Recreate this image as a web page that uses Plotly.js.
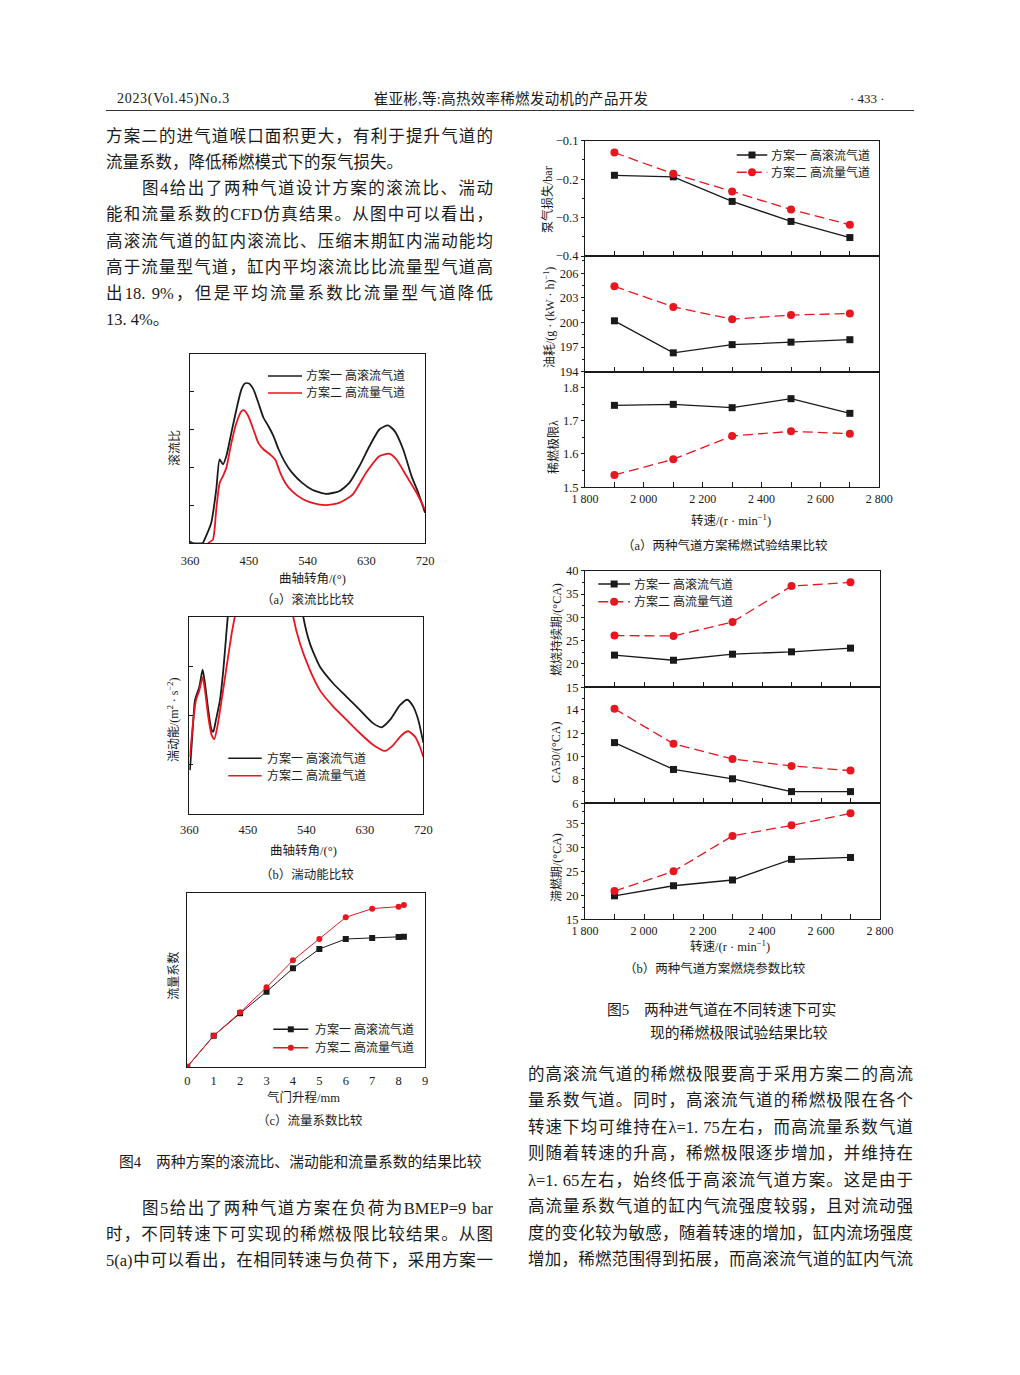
<!DOCTYPE html>
<html><head><meta charset="utf-8">
<script src="https://cdn.plot.ly/plotly-3.0.1.min.js"></script>
<style>
html,body{margin:0;padding:0;background:#fff;}
#page{position:relative;width:1020px;height:1375px;overflow:hidden;background:#fff;}
#plot{position:absolute;left:0;top:0;width:1020px;height:1375px;}
.t{position:absolute;font-family:"Liberation Serif","Noto Sans CJK SC",serif;color:#1a1a1a;white-space:nowrap;}
.b{font-size:16.5px;line-height:20px;height:20px;}
.j{text-align:justify;text-align-last:justify;white-space:normal;overflow:hidden;}
</style></head><body>
<div id="page">
<div id="plot"></div>
<div class="t" style="left:117px;top:90px;font-size:14px;line-height:18px;letter-spacing:0.7px;">2023(Vol.45)No.3</div>
<div class="t" style="left:360px;width:302px;top:90px;font-size:14.5px;line-height:18px;text-align:center;letter-spacing:0.3px;">崔亚彬,等:高热效率稀燃发动机的产品开发</div>
<div class="t" style="left:850px;top:90px;font-size:13px;line-height:18px;">· 433 ·</div>
<div style="position:absolute;left:106px;top:110px;width:808px;height:1px;background:#333;"></div>

<div class="t b j" style="left:106px;width:387px;top:127px;">方案二的进气道喉口面积更大，有利于提升气道的</div>
<div class="t b" style="left:106px;top:153px;">流量系数，降低稀燃模式下的泵气损失。</div>
<div class="t b j" style="left:142px;width:351px;top:179px;">图4给出了两种气道设计方案的滚流比、湍动</div>
<div class="t b j" style="left:106px;width:387px;top:205px;">能和流量系数的CFD仿真结果。从图中可以看出，</div>
<div class="t b j" style="left:106px;width:387px;top:232px;">高滚流气道的缸内滚流比、压缩末期缸内湍动能均</div>
<div class="t b j" style="left:106px;width:387px;top:258px;">高于流量型气道，缸内平均滚流比比流量型气道高</div>
<div class="t b j" style="left:106px;width:387px;top:284px;">出18. 9%，但是平均流量系数比流量型气道降低</div>
<div class="t b" style="left:106px;top:310px;">13. 4%。</div>

<div class="t b j" style="left:142px;width:351px;top:1199px;">图5给出了两种气道方案在负荷为BMEP=9 bar</div>
<div class="t b j" style="left:106px;width:387px;top:1225px;">时，不同转速下可实现的稀燃极限比较结果。从图</div>
<div class="t b j" style="left:106px;width:387px;top:1251px;">5(a)中可以看出，在相同转速与负荷下，采用方案一</div>

<div class="t b j" style="left:528px;width:385px;top:1065px;">的高滚流气道的稀燃极限要高于采用方案二的高流</div>
<div class="t b j" style="left:528px;width:385px;top:1091px;">量系数气道。同时，高滚流气道的稀燃极限在各个</div>
<div class="t b j" style="left:528px;width:385px;top:1118px;">转速下均可维持在λ=1. 75左右，而高流量系数气道</div>
<div class="t b j" style="left:528px;width:385px;top:1144px;">则随着转速的升高，稀燃极限逐步增加，并维持在</div>
<div class="t b j" style="left:528px;width:385px;top:1171px;">λ=1. 65左右，始终低于高滚流气道方案。这是由于</div>
<div class="t b j" style="left:528px;width:385px;top:1197px;">高流量系数气道的缸内气流强度较弱，且对流动强</div>
<div class="t b j" style="left:528px;width:385px;top:1224px;">度的变化较为敏感，随着转速的增加，缸内流场强度</div>
<div class="t b j" style="left:528px;width:385px;top:1250px;">增加，稀燃范围得到拓展，而高滚流气道的缸内气流</div>
</div>
<script>
// ---------- Data ----------
// Fig 4(a) tumble ratio vs crank angle
const crank4a_s1 = [360,364,379.6,382.2,392.5,400.2,405.4,410.5,415.7,423.4,431.2,438.9,444.1,450.3,457,464.7,472.4,480.2,487.9,495.7,506,516.3,531.8,547.2,567.9,588.5,604,619.4,634.9,650.4,663.3,673.6,686.5,699.4,709.7,720];
const tumble_s1 = [0.04,0,0,0.09,0.53,1.41,2.21,2.08,2.30,2.92,3.54,4.07,4.22,4.22,4.07,3.71,3.32,3.09,2.83,2.48,2.12,1.86,1.59,1.41,1.30,1.37,1.59,2.03,2.56,3.01,3.11,2.96,2.48,1.77,1.33,0.80];
const crank4a_s2 = [387.3,395,400.2,405.4,410.5,415.7,423.4,431.2,438.9,443,449.2,457,464.7,472.4,482.8,490.5,498.2,506,516.3,531.8,547.2,567.9,588.5,609.1,629.8,650.4,665.9,676.2,691.7,707.1,720];
const tumble_s2 = [0,0.09,0.88,1.59,1.77,1.99,2.65,3.18,3.49,3.51,3.36,3.01,2.65,2.48,2.34,2.21,1.86,1.59,1.37,1.17,1.06,1.0,1.06,1.28,1.86,2.30,2.36,2.21,1.77,1.33,0.88];
// Fig 4(b) turbulent kinetic energy vs crank angle
const crank4b_s1 = [361,366.2,368.7,375.4,380.5,384.1,389.2,394.4,396.9,401,407.2,412.3,417.4,420,430,470,500,525,535.4,545.6,561,581.5,602,622.6,643.1,655.9,668.7,684.1,695.4,704.6,712.3,720];
const tke_s1 = [0.89,1.91,2.31,2.58,2.93,2.65,2.11,1.70,1.67,1.91,2.31,2.92,3.73,4.14,6.0,7.5,7.5,5.0,4.0,3.46,2.99,2.65,2.38,2.11,1.84,1.76,1.91,2.21,2.32,2.18,1.91,1.45];
const crank4b_s2 = [361,366.2,370.3,375.4,380.5,384.1,389.2,394.4,398.5,403.1,409.7,417.4,425.1,430.3,445,475,500,512,520,530.3,545.6,561,581.5,602,622.6,643.1,661,673.8,686.6,696.9,707.2,714.9,720];
const tke_s2 = [1.16,1.91,2.31,2.51,2.78,2.51,1.97,1.60,1.52,1.77,2.31,2.99,3.66,4.03,5.5,6.8,6.3,4.9,4.0,3.46,2.92,2.51,2.18,1.91,1.64,1.40,1.28,1.40,1.60,1.68,1.57,1.36,1.16];
// Fig 4(c) flow coefficient vs valve lift
const lift = [0,1,2,3,4,5,6,7,8,8.2];
const flow_s1 = [0,0.093,0.160,0.225,0.295,0.353,0.383,0.386,0.389,0.390];
const flow_s2 = [0,0.093,0.163,0.238,0.319,0.383,0.448,0.474,0.480,0.485];
// Fig 5 engine speed tests
const speed = [1900,2100,2300,2500,2700];
const pump_s1 = [-0.190,-0.194,-0.258,-0.310,-0.352];
const pump_s2 = [-0.131,-0.186,-0.232,-0.279,-0.319];
const bsfc_s1 = [200.2,196.3,197.3,197.6,197.9];
const bsfc_s2 = [204.4,201.9,200.4,200.9,201.1];
const lambda_s1 = [1.746,1.749,1.739,1.766,1.722];
const lambda_s2 = [1.537,1.584,1.654,1.668,1.661];
const dur_s1 = [21.9,20.8,22.1,22.6,23.4];
const dur_s2 = [26.1,26.0,29.0,36.7,37.5];
const ca50_s1 = [11.2,8.9,8.1,7.0,7.0];
const ca50_s2 = [14.1,11.1,9.8,9.2,8.8];
const delay_s1 = [19.9,22.0,23.2,27.5,27.9];
const delay_s2 = [20.9,25.0,32.4,34.6,37.1];
// Labels
const name1 = '方案一 高滚流气道';
const name2 = '方案二 高流量气道';
const speedTicks = [1800,2000,2200,2400,2600,2800];
const speedTickText = ['1 800','2 000','2 200','2 400','2 600','2 800'];
const crankTicks = [360,450,540,630,720];

// ---------- Helpers ----------
const W=1020,H=1375;
const fx=p=>p/W, fy=p=>1-p/H;
const FONT='Liberation Serif, Noto Sans CJK SC, serif';
const INK='#1a1a1a', RED='#e8161e';
const domx=(a,b)=>[fx(a),fx(b)];
const domy=(t,b)=>[fy(b),fy(t)];
const base={showline:true,linecolor:INK,linewidth:1,mirror:true,showgrid:false,zeroline:false,
  tickfont:{family:FONT,size:12.5,color:INK},tickcolor:INK,fixedrange:true};
function ax(o){return Object.assign({},base,o);}

const annotations=[], shapes=[];
function txt(text,x,y,o){
  const a={text,x:fx(x),y:fy(y),xref:'paper',yref:'paper',showarrow:false,xanchor:'center',yanchor:'middle',
    font:{family:FONT,size:12.5,color:INK}};
  return Object.assign(a,o||{});
}
function legendItem(x0,x1,y,color,dash,sym,label,tx,r){
  shapes.push({type:'line',xref:'paper',yref:'paper',x0:fx(x0),x1:fx(x1),y0:fy(y),y1:fy(y),line:{color:color,width:1.5,dash:dash}});
  if(sym){const c=(x0+x1)/2;
    shapes.push({type:sym==='square'?'rect':'circle',xref:'paper',yref:'paper',x0:fx(c-r),x1:fx(c+r),y0:fy(y+r),y1:fy(y-r),fillcolor:color,line:{width:0}});}
  annotations.push(txt(label,tx,y,{xanchor:'left',font:{family:FONT,size:12,color:INK}}));
}

// ---------- Traces ----------
const traces=[];
const crv=(x,y,c,xa,ya)=>({x,y,xaxis:xa,yaxis:ya,mode:'lines',line:{color:c,width:1.8,shape:'spline',smoothing:0.6},showlegend:false,hoverinfo:'skip'});
traces.push(crv(crank4a_s1,tumble_s1,INK,'x','y'));
traces.push(crv(crank4a_s2,tumble_s2,RED,'x','y'));
traces.push(crv(crank4b_s1,tke_s1,INK,'x2','y2'));
traces.push(crv(crank4b_s2,tke_s2,RED,'x2','y2'));
traces.push({x:lift,y:flow_s1,xaxis:'x3',yaxis:'y3',mode:'lines+markers',line:{color:INK,width:1},marker:{symbol:'square',size:6,color:INK},showlegend:false});
traces.push({x:lift,y:flow_s2,xaxis:'x3',yaxis:'y3',mode:'lines+markers',line:{color:RED,width:1},marker:{symbol:'circle',size:6,color:RED},showlegend:false});
const blk=(y,n)=>({x:speed,y,xaxis:'x'+n,yaxis:'y'+n,mode:'lines+markers',line:{color:INK,width:1.3},marker:{symbol:'square',size:7,color:INK},showlegend:false,cliponaxis:false});
const red=(y,n)=>({x:speed,y,xaxis:'x'+n,yaxis:'y'+n,mode:'lines+markers',line:{color:RED,width:1.3,dash:'10px,5px'},marker:{symbol:'circle',size:8,color:RED},showlegend:false,cliponaxis:false});
[[pump_s1,pump_s2,4],[bsfc_s1,bsfc_s2,5],[lambda_s1,lambda_s2,6],[dur_s1,dur_s2,7],[ca50_s1,ca50_s2,8],[delay_s1,delay_s2,9]].forEach(([a,b,n])=>{traces.push(blk(a,n));traces.push(red(b,n));});

// ---------- Layout ----------
const layout={width:W,height:H,margin:{l:0,r:0,t:0,b:0},paper_bgcolor:'rgba(0,0,0,0)',plot_bgcolor:'rgba(0,0,0,0)',showlegend:false,
  font:{family:FONT,color:INK},
  xaxis:ax({domain:domx(190,425),anchor:'y',range:[360,720],tickvals:crankTicks,ticks:'',ticklabelstandoff:6}),
  yaxis:ax({domain:domy(354,543),anchor:'x',range:[0,5],dtick:1,ticks:'inside',ticklen:4,showticklabels:false}),
  xaxis2:ax({domain:domx(189.3,423.3),anchor:'y2',range:[360,720],tickvals:crankTicks,ticks:'',ticklabelstandoff:4}),
  yaxis2:ax({domain:domy(617,814),anchor:'x2',range:[0,4],dtick:1,ticks:'inside',ticklen:4,showticklabels:false}),
  xaxis3:ax({domain:domx(187.3,425),anchor:'y3',range:[0,9],dtick:1,ticks:'',ticklabelstandoff:2}),
  yaxis3:ax({domain:domy(893.3,1066.7),anchor:'x3',range:[0,0.52],ticks:'',showticklabels:false}),
};
const panels=[[4,140.7,256,false],[5,256,371.7,false],[6,371.7,487.3,true],[7,570.7,687.3,false],[8,687.3,803.3,false],[9,803.3,919.3,true]];
const yspec={
  4:{range:[-0.4,-0.1],tickvals:[-0.4,-0.3,-0.2,-0.1],minor:[-0.35,-0.25,-0.15]},
  5:{range:[194,208.1],tickvals:[194,197,200,203,206],minor:[195.5,198.5,201.5,204.5,207.5]},
  6:{range:[1.5,1.847],tickvals:[1.5,1.6,1.7,1.8],minor:[1.55,1.65,1.75]},
  7:{range:[15,40],tickvals:[15,20,25,30,35,40],minor:[17.5,22.5,27.5,32.5,37.5]},
  8:{range:[6,15.94],tickvals:[6,8,10,12,14],minor:[7,9,11,13,15]},
  9:{range:[15,39.2],tickvals:[15,20,25,30,35],minor:[17.5,22.5,27.5,32.5,37.5]}
};
panels.forEach(([n,t,b,lab])=>{
  const xr = n<=6 ? [585,879.3] : [585,880];
  layout['xaxis'+n]=ax({domain:domx(xr[0],xr[1]),anchor:'y'+n,range:[1800,2800],tickvals:speedTicks,ticktext:speedTickText,
    ticks:'inside',ticklen:5,showticklabels:lab,tickfont:{family:FONT,size:12,color:INK},
    minor:{tickmode:'linear',tick0:1800,dtick:100,ticks:'inside',ticklen:5,tickcolor:INK}});
  const s=yspec[n];
  layout['yaxis'+n]=ax({domain:domy(t,b),anchor:'x'+n,range:s.range,tickvals:s.tickvals,ticks:'outside',ticklen:3,
    tickformat: n===4||n===6 ? '.1f' : 'd', ticklabelshift: 1.5,
    minor:{tickmode:'array',tickvals:s.minor,ticks:'outside',ticklen:2,tickcolor:INK}});
});

// Fig 4 texts
annotations.push(txt('滚流比',175,448,{textangle:-90,font:{family:FONT,size:12,color:INK}}));
annotations.push(txt('曲轴转角/(°)',312,578));
annotations.push(txt('（a）滚流比比较',308,600));
legendItem(268,302,376,INK,'solid',null,name1,304,0);
legendItem(268,302,393,RED,'solid',null,name2,304,0);

annotations.push(txt('湍动能/(m<sup>2</sup> · s<sup>−2</sup>)',173,720,{textangle:-90,font:{family:FONT,size:12,color:INK}}));
annotations.push(txt('曲轴转角/(°)',303,850));
annotations.push(txt('（b）湍动能比较',307,874));
legendItem(228.3,261.7,758.3,INK,'solid',null,name1,265,0);
legendItem(228.3,261.7,775.7,RED,'solid',null,name2,265,0);

annotations.push(txt('流量系数',172.7,976,{textangle:-90,font:{family:FONT,size:12,color:INK}}));
annotations.push(txt('气门升程/mm',303,1097));
annotations.push(txt('（c）流量系数比较',310,1120));
legendItem(273.3,308.3,1029.3,INK,'solid','square',name1,312.7,3);
legendItem(273.3,308.3,1047.7,RED,'solid','circle',name2,312.7,3);

annotations.push(txt('图4　两种方案的滚流比、湍动能和流量系数的结果比较',300,1161,{font:{family:FONT,size:14.8,color:INK}}));

// Fig 5 texts
annotations.push(txt('泵气损失/bar',547,200,{textangle:-90,font:{family:FONT,size:12,color:INK}}));
annotations.push(txt('油耗/(g · (kW · h)<sup>−1</sup>)',549,318,{textangle:-90,font:{family:FONT,size:12,color:INK}}));
annotations.push(txt('稀燃极限λ',553,447,{textangle:-90,font:{family:FONT,size:12,color:INK}}));
annotations.push(txt('转速/(r · min<sup>−1</sup>)',731,520));
annotations.push(txt('（a）两种气道方案稀燃试验结果比较',725,545));
legendItem(736.7,767.3,155,INK,'solid','square',name1,769,3.5);
legendItem(736.7,767.3,172.3,RED,'10px,5px','circle',name2,769,4);

annotations.push(txt('燃烧持续期/(°CA)',556,630,{textangle:-90,font:{family:FONT,size:12,color:INK}}));
annotations.push(txt('CA50/(°CA)',556,753,{textangle:-90,font:{family:FONT,size:12,color:INK}}));
annotations.push(txt('滞燃期/(°CA)',556,868,{textangle:-90,font:{family:FONT,size:12,color:INK}}));
annotations.push(txt('转速/(r · min<sup>−1</sup>)',730,946));
annotations.push(txt('（b）两种气道方案燃烧参数比较',715,968));
legendItem(598.3,630,584,INK,'solid','square',name1,632,3.5);
legendItem(598.3,630,601.7,RED,'10px,5px','circle',name2,632,4);

annotations.push(txt('图5　两种进气道在不同转速下可实',605,1010,{xanchor:'left',font:{family:FONT,size:14.8,color:INK}}));
annotations.push(txt('现的稀燃极限试验结果比较',648,1032,{xanchor:'left',font:{family:FONT,size:14.8,color:INK}}));

layout.annotations=annotations;
layout.shapes=shapes;
Plotly.newPlot('plot',traces,layout,{staticPlot:true,displayModeBar:false});
</script>
</body></html>
